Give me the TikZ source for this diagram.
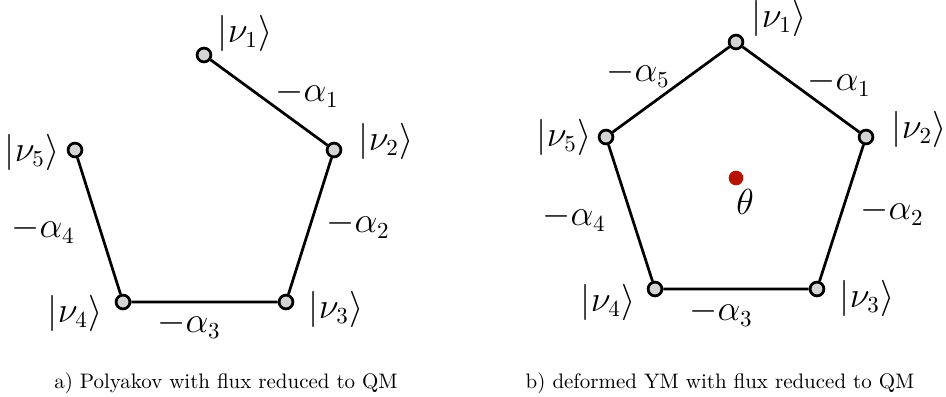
\documentclass[tikz,border=0pt]{standalone}
\usepackage{amsmath,amssymb}
\usepackage{tikz}
\definecolor{thetared}{RGB}{180,20,0}

\begin{document}
\begin{tikzpicture}[
  x=0.477pt, y=-0.477pt,
  vtx/.style={circle, draw, line width=1.3pt, fill=black!17, minimum size=6.6pt, inner sep=0pt},
  link/.style={line width=1.3pt},
  lab/.style={font=\fontsize{16}{19}\selectfont, inner sep=0pt},
  captxt/.style={font=\normalsize, inner sep=0pt, anchor=base},
  flux/.style={circle, fill=thetared, minimum size=7pt, inner sep=0pt}
]
\useasboundingbox (0,0) rectangle (946,396);
% a) open chain
\node[vtx] (a1) at (204,55) {};
\node[vtx] (a2) at (334,150) {};
\node[vtx] (a3) at (286,302) {};
\node[vtx] (a4) at (123,302) {};
\node[vtx] (a5) at (75,150) {};
\draw[link] (a1) -- (a2) -- (a3) -- (a4) -- (a5);
\node[lab] (ka1) at (245,33) {$|\nu_1\rangle$};
\node[lab] (ka2) at (386,141) {$|\nu_2\rangle$};
\node[lab] (ka3) at (336,309) {$|\nu_3\rangle$};
\node[lab] (ka4) at (75,313) {$|\nu_4\rangle$};
\node[lab] (ka5) at (32,152) {$|\nu_5\rangle$};
\node[lab] (ea1) at (307,94) {$-\alpha_1$};
\node[lab] (ea2) at (358,225) {$-\alpha_2$};
\node[lab] (ea3) at (189,325) {$-\alpha_3$};
\node[lab] (ea4) at (43,230) {$-\alpha_4$};
\node[captxt] (capa) at (226,388) {a) Polyakov with flux reduced to QM};
% b) closed pentagon with flux
\node[vtx] (b1) at (736,42) {};
\node[vtx] (b2) at (866,137) {};
\node[vtx] (b3) at (817,289) {};
\node[vtx] (b4) at (655,289) {};
\node[vtx] (b5) at (606,137) {};
\draw[link] (b1) -- (b2) -- (b3) -- (b4) -- (b5) -- (b1);
\node[flux] (theta) at (736,178) {};
\node[lab] (ktheta) at (745,202) {$\theta$};
\node[lab] (kb1) at (779,18) {$|\nu_1\rangle$};
\node[lab] (kb2) at (919,129) {$|\nu_2\rangle$};
\node[lab] (kb3) at (867,298) {$|\nu_3\rangle$};
\node[lab] (kb4) at (608,302) {$|\nu_4\rangle$};
\node[lab] (kb5) at (564,137) {$|\nu_5\rangle$};
\node[lab] (eb1) at (839,83) {$-\alpha_1$};
\node[lab] (eb2) at (892,212) {$-\alpha_2$};
\node[lab] (eb3) at (721,313) {$-\alpha_3$};
\node[lab] (eb4) at (574,218) {$-\alpha_4$};
\node[lab] (eb5) at (638,74) {$-\alpha_5$};
\node[captxt] (capb) at (720,388) {b) deformed YM with flux reduced to QM};
\end{tikzpicture}
\end{document}
